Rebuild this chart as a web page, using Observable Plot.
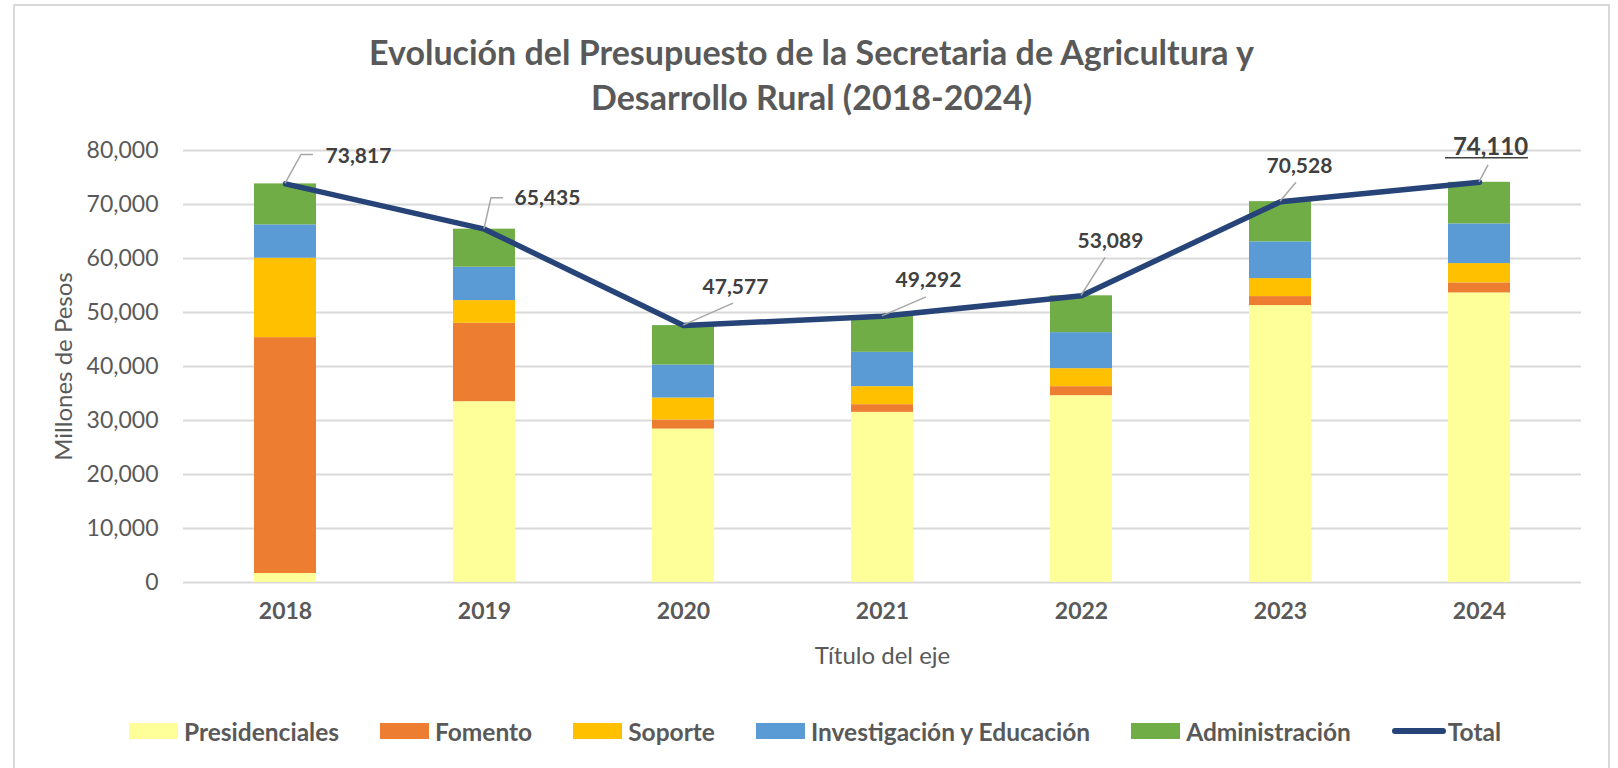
<!DOCTYPE html>
<html><head><meta charset="utf-8">
<script src="https://cdn.jsdelivr.net/npm/d3@7"></script>
<script src="https://cdn.jsdelivr.net/npm/@observablehq/plot@0.6"></script>
<style>
html,body{margin:0;padding:0;background:#fff;overflow:hidden;}
body{width:1618px;height:768px;position:relative;font-family:Lato, sans-serif;}
#frame{position:absolute;left:13px;top:4px;width:1597px;height:820px;border:2px solid #d9d9d9;box-sizing:border-box;}
#title{position:absolute;left:14px;width:1595px;top:29px;text-align:center;font-weight:700;font-size:34px;line-height:45px;color:#595959;}
#chart{position:absolute;left:0;top:115px;}
#legend{position:absolute;left:0;width:1630px;top:718px;height:26px;display:flex;justify-content:center;align-items:center;gap:41px;font-size:24.5px;font-weight:700;color:#595959;}
.item{display:flex;align-items:center;gap:6px;}
.sw{width:49px;height:16px;}
.ln{width:54px;height:6px;border-radius:3px;}
</style>
</head><body>
<div id="frame"></div>
<div id="title">Evolución del Presupuesto de la Secretaria de Agricultura y<br>Desarrollo Rural (2018-2024)</div>
<div id="chart"></div>
<div id="legend"></div>
<script>
const years = ["2018","2019","2020","2021","2022","2023","2024"];
const seriesNames = ["Presidenciales","Fomento","Soporte","Investigación y Educación","Administración"];
const presidenciales = [1668, 33484, 28419, 31508, 34597, 51277, 53625];
const fomento = [43677, 14519, 1668, 1421, 1668, 1669, 1853];
const soporte = [14705, 4201, 4077, 3336, 3336, 3336, 3583];
const investigacion = [6178, 6178, 6117, 6363, 6672, 6796, 7352];
const administracion = [7589, 7053, 7296, 6664, 6816, 7450, 7697];
const totals = [73817, 65435, 47577, 49292, 53089, 70528, 74110];
const yTicks = [0, 10000, 20000, 30000, 40000, 50000, 60000, 70000, 80000];
const totalName = "Total";
const yTitle = "Millones de Pesos";
const xTitle = "Título del eje";

// styles
const seriesColors = ["#FFFF99", "#ED7D31", "#FFC000", "#5B9BD5", "#70AD47"];
const lineColor = "#264478";
const labelOffsets = [[73,-28],[63,-31],[52,-38],[46,-36],[29,-55],[19,-35],[11,-35]];
const leaderPaths = [
  [[0,0],[16,-29],[28,-29]],
  [[0,0],[7,-31],[19,-31]],
  [[0,0],[50,-22]],
  [[0,0],[44,-19]],
  [[0,0],[24,-38]],
  [[0,0],[16,-19]],
  [[0,0],[9,-17]]
];

const seriesValues = [presidenciales, fomento, soporte, investigacion, administracion];
const rows = [];
years.forEach((y, i) => seriesNames.forEach((s, j) => rows.push({year: y, serie: s, value: seriesValues[j][i]})));
const totalRows = years.map((y, i) => ({year: y, total: totals[i]}));
const fmt = d3.format(",");

const labelMarks = totalRows.map((d, i) => Plot.text([d], {
  x: "year", y: "total", text: r => fmt(r.total),
  dx: labelOffsets[i][0], dy: labelOffsets[i][1],
  fontWeight: "bold", fontSize: i === 6 ? 24 : 21, fill: "#404040"
}));

const chart = Plot.plot({
  width: 1618, height: 575,
  marginLeft: 183, marginRight: 37, marginTop: 35, marginBottom: 108,
  style: {fontFamily: "Lato, sans-serif", background: "transparent", overflow: "visible"},
  x: {domain: years, axis: null, paddingInner: 0.69, paddingOuter: 0.345},
  y: {domain: [0, 80000], axis: null},
  color: {domain: seriesNames, range: seriesColors},
  marks: [
    Plot.ruleY(yTicks, {stroke: "#d9d9d9", strokeWidth: 2}),
    Plot.text(yTicks, {y: d => d, text: d => fmt(d), frameAnchor: "left", textAnchor: "end", dx: -25, fontSize: 23, fill: "#595959"}),
    Plot.barY(rows, {x: "year", y: "value", fill: "serie"}),
    Plot.line(totalRows, {x: "year", y: "total", stroke: lineColor, strokeWidth: 5.5, strokeLinecap: "round", strokeLinejoin: "round"}),
    Plot.text(years, {x: d => d, frameAnchor: "bottom", dy: 36, fontWeight: "bold", fontSize: 23, fill: "#595959"}),
    Plot.text([xTitle], {frameAnchor: "bottom", dy: 81, fontSize: 24, fill: "#595959"}),
    Plot.text([yTitle], {frameAnchor: "left", textAnchor: "middle", dx: -119, rotate: -90, fontSize: 24, fill: "#595959"}),
    ...labelMarks
  ]
});
document.getElementById("chart").appendChild(chart);

// leader lines positioned through the plot's own scales
const xs = chart.scale("x"), ys = chart.scale("y");
const svg = d3.select(chart);
const g = svg.append("g").attr("fill", "none").attr("stroke", "#a6a6a6").attr("stroke-width", 1.5);
totalRows.forEach((d, i) => {
  const cx = xs.apply(d.year) + xs.bandwidth / 2;
  const cy = ys.apply(d.total);
  g.append("path").attr("d", d3.line()(leaderPaths[i].map(([a, b]) => [cx + a, cy + b])));
  if (i === 6) {
    g.append("line").attr("x1", cx - 34).attr("x2", cx + 49).attr("y1", cy - 24).attr("y2", cy - 24)
      .attr("stroke", "#404040").attr("stroke-width", 1.5);
  }
});

// legend
const legend = document.getElementById("legend");
seriesNames.forEach((s, j) => {
  const it = document.createElement("div"); it.className = "item";
  const sw = document.createElement("div"); sw.className = "sw"; sw.style.background = seriesColors[j];
  const t = document.createElement("span"); t.textContent = s;
  it.append(sw, t); legend.append(it);
});
{
  const it = document.createElement("div"); it.className = "item"; it.style.gap = "2px";
  const sw = document.createElement("div"); sw.className = "ln"; sw.style.background = lineColor;
  const t = document.createElement("span"); t.textContent = totalName;
  it.append(sw, t); legend.append(it);
}
</script>
</body></html>
